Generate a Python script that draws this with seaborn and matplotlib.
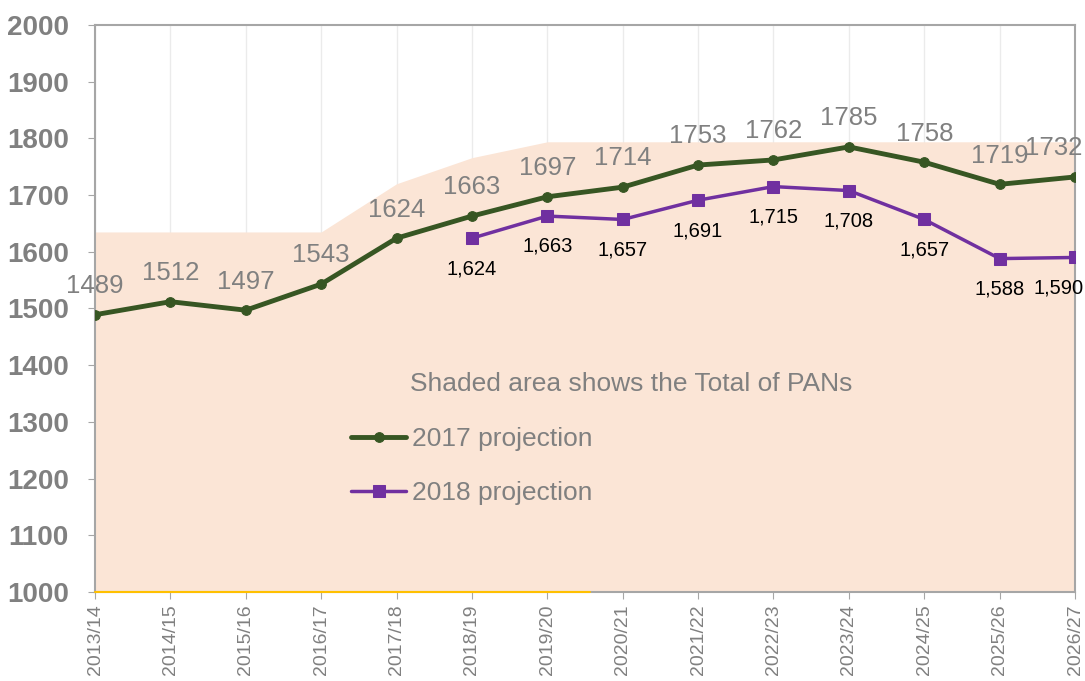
import matplotlib
matplotlib.use("Agg")
import matplotlib.pyplot as plt
import seaborn as sns
import pandas as pd

years = ["2013/14", "2014/15", "2015/16", "2016/17", "2017/18", "2018/19", "2019/20",
         "2020/21", "2021/22", "2022/23", "2023/24", "2024/25", "2025/26", "2026/27"]
proj_2017 = [1489, 1512, 1497, 1543, 1624, 1663, 1697, 1714, 1753, 1762, 1785, 1758, 1719, 1732]
proj_2018 = [None, None, None, None, None, 1624, 1663, 1657, 1691, 1715, 1708, 1657, 1588, 1590]
total_pans = [1635, 1635, 1635, 1635, 1720, 1766, 1794, 1794, 1794, 1794, 1794, 1794, 1794, 1794]

GREEN = "#375623"
PURPLE = "#7030A0"
GREY = "#808080"
SHADE = "#FBE5D6"


def plot_projections():
    df = pd.DataFrame({
        "idx": range(len(years)),
        "Year": years,
        "2017 projection": proj_2017,
        "2018 projection": proj_2018,
        "PANs": total_pans,
    })

    sns.set_style("white")
    plt.rcParams["font.family"] = ["Liberation Sans", "DejaVu Sans"]

    fig = plt.figure(figsize=(10.85, 6.81), dpi=100)
    ax = fig.add_axes([0.0876, 0.1307, 0.9032, 0.8326])

    # shaded total of PANs
    ax.fill_between(df["idx"], 1000, df["PANs"], color=SHADE, linewidth=0, zorder=1)
    ax.axhline(1000, xmin=0, xmax=0.505, color="#FFC000", linewidth=1.5, zorder=3,
               clip_on=False)

    sns.lineplot(data=df, x="idx", y="2017 projection", ax=ax, color=GREEN,
                 linewidth=3.5, marker="o", markersize=7, markeredgecolor=GREEN,
                 label="2017 projection", zorder=4)
    d18 = df.dropna(subset=["2018 projection"])
    sns.lineplot(data=d18, x="idx", y="2018 projection", ax=ax, color=PURPLE,
                 linewidth=2.5, marker="s", markersize=9, markeredgecolor=PURPLE,
                 label="2018 projection", zorder=3)

    last = len(years) - 1
    for i, v in zip(df["idx"], proj_2017):
        ha, dx = ("right", 5) if i == last else ("center", 0)
        ax.annotate(str(v), (i, v), xytext=(dx, 12), textcoords="offset points",
                    ha=ha, va="bottom", fontsize=18.5, color=GREY, zorder=5,
                    annotation_clip=False)
    for i, v in zip(d18["idx"], d18["2018 projection"]):
        ha, dx = ("right", 6) if i == last else ("center", 0)
        ax.annotate(f"{int(v):,}", (i, v), xytext=(dx, -15), textcoords="offset points",
                    ha=ha, va="top", fontsize=14.5, color="black", zorder=5,
                    annotation_clip=False)

    ax.set_xlim(0, last)
    ax.set_ylim(1000, 2000)
    ax.set_xticks(df["idx"])
    ax.set_xticklabels(years, rotation=90, fontsize=14, color=GREY)
    ax.set_yticks(range(1000, 2001, 100))
    ax.set_yticklabels([str(v) for v in range(1000, 2001, 100)],
                       fontsize=20, fontweight="bold", color=GREY)
    ax.tick_params(axis="both", direction="out", length=5, color="#A6A6A6",
                   bottom=True, left=True)
    ax.tick_params(axis="y", pad=14)
    ax.tick_params(axis="x", pad=4)
    ax.set_xlabel("")
    ax.set_ylabel("")

    ax.xaxis.grid(True, color="#EBEBEB", linewidth=1, zorder=0)
    ax.yaxis.grid(False)
    ax.set_axisbelow(True)
    for s in ax.spines.values():
        s.set_color("#A6A6A6")
        s.set_linewidth(1.5)

    ax.text(0.321, 0.367, "Shaded area shows the Total of PANs", transform=ax.transAxes,
            fontsize=19, color=GREY, ha="left", va="center")

    leg = ax.legend(loc="upper left", bbox_to_anchor=(0.237, 0.332), frameon=False,
                    fontsize=19, handlelength=2.1, handletextpad=0.2,
                    labelspacing=1.13)
    for t in leg.get_texts():
        t.set_color(GREY)

    fig.savefig("out.png", dpi=100)


if __name__ == "__main__":
    plot_projections()
